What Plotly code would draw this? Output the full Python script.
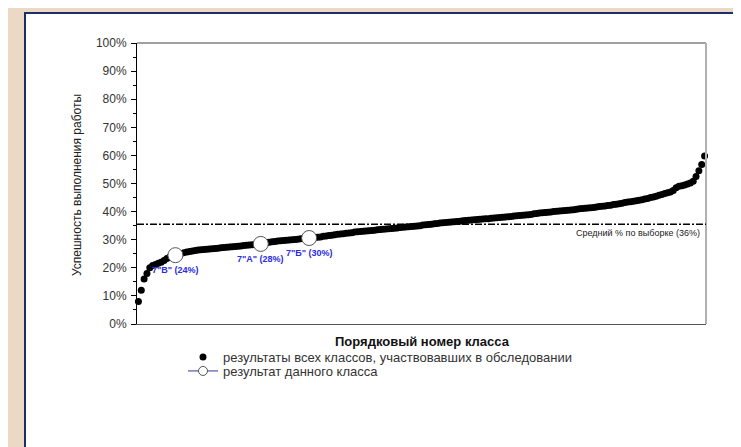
import plotly.graph_objects as go

# ---- data ----
class_results = [
    8.0, 12.0, 16.0, 18.0, 20.0, 20.8, 21.2, 21.6, 22.0, 22.6,
    23.3, 23.8, 24.2, 24.5, 24.8, 25.1, 25.4, 25.6, 25.8, 26.0,
    26.2, 26.3, 26.4, 26.5, 26.6, 26.7, 26.8, 26.9, 27.0, 27.1,
    27.2, 27.3, 27.4, 27.5, 27.6, 27.7, 27.8, 27.9, 28.0, 28.1,
    28.2, 28.3, 28.4, 28.5, 28.7, 28.9, 29.1, 29.3, 29.4, 29.5,
    29.6, 29.7, 29.8, 29.9, 30.0, 30.1, 30.2, 30.3, 30.4, 30.5,
    30.6, 30.7, 30.8, 30.9, 31.0, 31.2, 31.3, 31.5, 31.6, 31.8,
    31.9, 32.0, 32.1, 32.3, 32.4, 32.5, 32.7, 32.8, 32.9, 33.0,
    33.1, 33.2, 33.3, 33.4, 33.5, 33.6, 33.7, 33.8, 33.9, 34.0,
    34.1, 34.2, 34.3, 34.4, 34.5, 34.6, 34.7, 34.8, 34.9, 35.0,
    35.2, 35.3, 35.4, 35.5, 35.7, 35.8, 35.9, 36.0, 36.1, 36.2,
    36.3, 36.4, 36.5, 36.6, 36.7, 36.8, 36.9, 37.0, 37.1, 37.2,
    37.3, 37.4, 37.5, 37.5, 37.6, 37.7, 37.8, 37.9, 38.0, 38.1,
    38.2, 38.3, 38.4, 38.5, 38.6, 38.7, 38.8, 38.9, 39.0, 39.2,
    39.3, 39.5, 39.6, 39.7, 39.8, 39.9, 40.0, 40.1, 40.2, 40.3,
    40.4, 40.5, 40.6, 40.7, 40.8, 41.0, 41.1, 41.2, 41.3, 41.4,
    41.5, 41.6, 41.8, 41.9, 42.0, 42.2, 42.3, 42.5, 42.6, 42.8,
    43.0, 43.2, 43.4, 43.5, 43.7, 43.9, 44.0, 44.2, 44.5, 44.7,
    45.0, 45.2, 45.5, 45.8, 46.1, 46.4, 46.7, 47.0, 47.5, 48.5,
    49.0, 49.2, 49.5, 49.8, 50.2, 50.8, 52.5, 54.5, 56.8, 59.8,
]
class_rank = list(range(1, len(class_results) + 1))

school_labels = ['7"В" (24%)', '7"А" (28%)', '7"Б" (30%)']
school_rank = [14, 44, 61]
school_values = [24.5, 28.5, 30.6]

mean_value = 35.5
mean_label = "Средний % по выборке (36%)"

y_ticks = [0, 10, 20, 30, 40, 50, 60, 70, 80, 90, 100]
y_tick_text = [f"{v}%" for v in y_ticks]

legend_all = "результаты всех классов, участвовавших в обследовании"
legend_school = "результат данного класса"
y_title = "Успешность выполнения работы"
x_title = "Порядковый номер класса"

# ---- figure ----
W, H = 741, 447
OFF = 8  # page body margin
L, T = 137 - OFF, 43 - OFF
R, B = W - (706 - OFF), H - (324 - OFF)
pw, ph = W - L - R, H - T - B


def px_x(p):
    return (p - OFF - L) / pw


def px_y(p):
    return (H - B - (p - OFF)) / ph


fig = go.Figure()

fig.add_trace(go.Scatter(
    x=class_rank, y=class_results, mode="markers",
    marker=dict(color="black", size=7, line=dict(width=0)),
    name=legend_all, cliponaxis=False, legend="legend",
))

fig.add_trace(go.Scatter(
    x=school_rank, y=school_values, mode="markers",
    marker=dict(color="white", size=15, line=dict(color="#555555", width=1)),
    showlegend=False, cliponaxis=False,
))

fig.add_trace(go.Scatter(
    x=[None], y=[None], mode="lines+markers",
    line=dict(color="#333399", width=1),
    marker=dict(color="white", size=9, line=dict(color="#555555", width=1)),
    name=legend_school, legend="legend2",
))

shapes = [
    # white panel
    dict(type="rect", xref="paper", yref="paper",
         x0=px_x(25), x1=px_x(770), y0=px_y(480), y1=px_y(13),
         fillcolor="white", line=dict(color="#1c2f6a", width=2), layer="below"),
    # plot border top/right
    dict(type="line", xref="paper", yref="paper", x0=0, x1=1, y0=1, y1=1,
         line=dict(color="#a0a0a0", width=2)),
    dict(type="line", xref="paper", yref="paper", x0=1, x1=1, y0=0, y1=1,
         line=dict(color="#b0b0b0", width=2)),
    # mean line
    dict(type="line", xref="paper", yref="y", x0=0, x1=1,
         y0=mean_value, y1=mean_value,
         line=dict(color="black", width=1.5, dash="7px,2px,2px,2px")),
]

annotations = [
    dict(text=mean_label, xref="paper", yref="y", x=px_x(702), y=mean_value,
         xanchor="right", yanchor="top", yshift=-2, showarrow=False,
         font=dict(size=9, color="#222222")),
    dict(text=y_title, xref="paper", yref="paper", x=px_x(77), y=px_y(185),
         xanchor="center", yanchor="middle",
         textangle=-90, showarrow=False, font=dict(size=12, color="#222222")),
    dict(text="<b>" + x_title + "</b>", xref="paper", yref="paper",
         x=px_x(422), y=px_y(341), xanchor="center", yanchor="middle",
         showarrow=False, font=dict(size=13, color="#111111")),
]
for lab, r, v in zip(school_labels, school_rank, school_values):
    annotations.append(dict(
        text="<b>" + lab + "</b>", x=r, y=v, xref="x", yref="y",
        yshift=-15, showarrow=False, font=dict(size=9, color="#2a2ae6")))

leg_common = dict(xanchor="left", yanchor="middle", bgcolor="rgba(0,0,0,0)",
                  font=dict(size=13, color="#333333"), itemwidth=30,
                  borderwidth=0)

fig.update_layout(
    width=W, height=H,
    margin=dict(l=L, r=R, t=T, b=B, autoexpand=False),
    paper_bgcolor="#ecd9c5",
    plot_bgcolor="white",
    font=dict(family="Arial, Liberation Sans, sans-serif", color="#333333"),
    shapes=shapes,
    annotations=annotations,
    showlegend=True,
    legend=dict(x=px_x(183), y=px_y(357), **leg_common),
    legend2=dict(x=px_x(183), y=px_y(371), **leg_common),
    xaxis=dict(range=[0.5, len(class_results) + 0.5], showgrid=False,
               zeroline=False, showticklabels=False, ticks="",
               showline=True, linecolor="#555555", linewidth=1),
    yaxis=dict(range=[0, 100], tickvals=y_ticks, ticktext=y_tick_text,
               showgrid=False, zeroline=False, showline=True,
               linecolor="black", linewidth=1, ticks="outside", ticklen=5,
               tickcolor="black", tickwidth=1, ticklabelstandoff=2,
               tickfont=dict(size=12, color="#333333"),
               minor=dict(dtick=5, ticks="outside", ticklen=3,
                          tickcolor="black", showgrid=False)),
)

fig.write_html("out.html")
